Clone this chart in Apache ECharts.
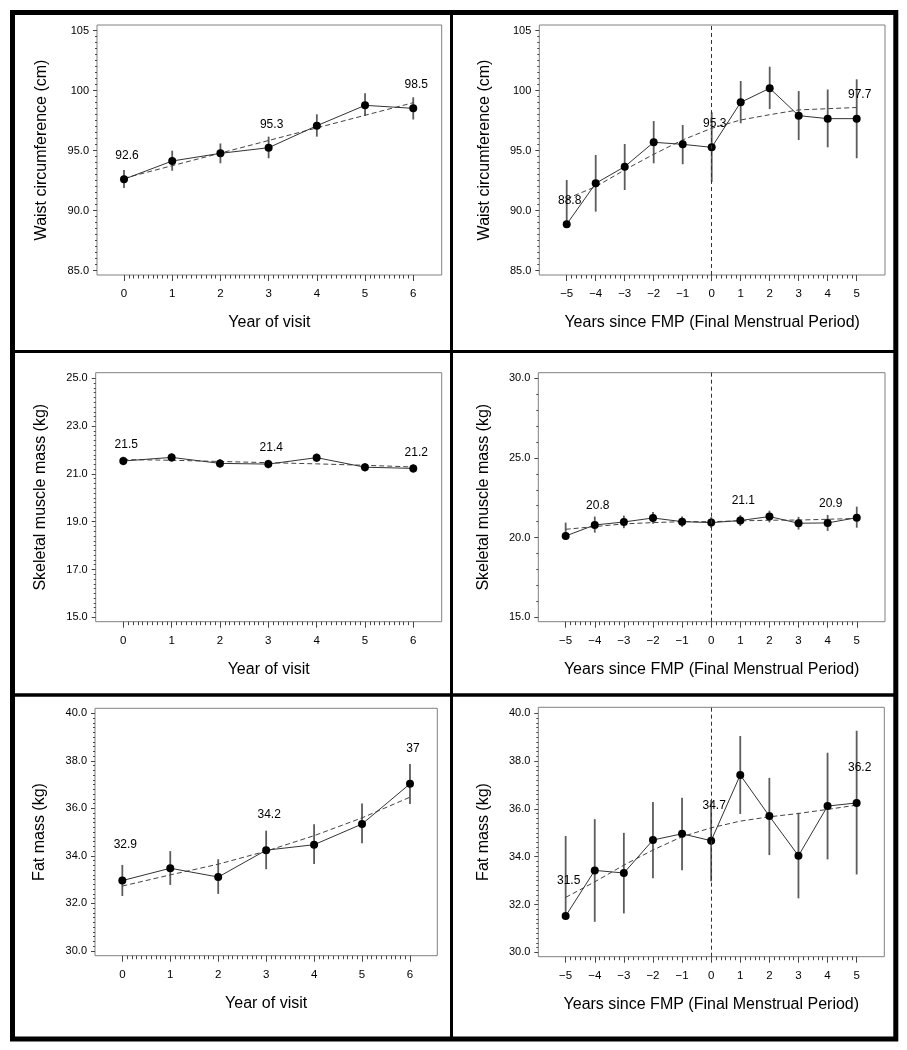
<!DOCTYPE html>
<html><head><meta charset="utf-8">
<script src="https://cdn.jsdelivr.net/npm/echarts@6/dist/echarts.min.js"></script>
<style>html,body{margin:0;padding:0;background:#fff}#c{width:907px;height:1050px}</style>
</head><body><div id="c"></div>
<script>
// ---------- categories / ticks ----------
const yearX = [0, 1, 2, 3, 4, 5, 6];
const fmpX = [-5, -4, -3, -2, -1, 0, 1, 2, 3, 4, 5];
const yearTickLabels = ['0', '1', '2', '3', '4', '5', '6'];
const fmpTickLabels = ['\u22125', '\u22124', '\u22123', '\u22122', '\u22121', '0', '1', '2', '3', '4', '5'];

const waistTicks = [85, 90, 95, 100, 105];
const waistTickLabels = ['85.0', '90.0', '95.0', '100', '105'];
const smmYearTicks = [15, 17, 19, 21, 23, 25];
const smmYearTickLabels = ['15.0', '17.0', '19.0', '21.0', '23.0', '25.0'];
const smmFmpTicks = [15, 20, 25, 30];
const smmFmpTickLabels = ['15.0', '20.0', '25.0', '30.0'];
const fatTicks = [30, 32, 34, 36, 38, 40];
const fatTickLabels = ['30.0', '32.0', '34.0', '36.0', '38.0', '40.0'];

// ---------- series values ----------
const waistYearMean = [92.62, 94.14, 94.78, 95.25, 97.08, 98.78, 98.53];
const waistYearLow  = [91.9, 93.33, 93.95, 94.37, 96.17, 97.9, 97.6];
const waistYearHigh = [93.4, 95.0, 95.6, 96.17, 98.03, 99.78, 99.45];
const waistYearFit  = [92.7, 93.75, 94.8, 95.85, 96.9, 97.95, 99.0];
const waistYearLabels = ['92.6', null, null, '95.3', null, null, '98.5'];

const waistFmpMean = [88.87, 92.28, 93.67, 95.7, 95.53, 95.28, 99.03, 100.2, 97.92, 97.67, 97.67];
const waistFmpLow  = [88.87, 89.92, 91.72, 93.95, 93.87, 92.4, 97.28, 98.47, 95.89, 95.28, 94.37];
const waistFmpHigh = [92.56, 94.64, 95.56, 97.47, 97.14, 98.2, 100.81, 102.0, 99.97, 100.1, 100.95];
const waistFmpFit  = [91.0, 92.0, 93.4, 94.7, 95.9, 96.87, 97.56, 98.0, 98.4, 98.5, 98.6];
const waistFmpLabels = ['88.8', null, null, null, null, '95.3', null, null, null, null, '97.7'];

const smmYearMean = [21.54, 21.69, 21.44, 21.41, 21.68, 21.28, 21.23];
const smmYearLow  = [21.36, 21.51, 21.26, 21.23, 21.5, 21.1, 21.05];
const smmYearHigh = [21.72, 21.87, 21.62, 21.59, 21.86, 21.46, 21.41];
const smmYearFit  = [21.6, 21.57, 21.52, 21.47, 21.42, 21.36, 21.29];
const smmYearLabels = ['21.5', null, null, '21.4', null, null, '21.2'];

const smmFmpMean = [20.1, 20.79, 20.98, 21.23, 21.0, 20.94, 21.07, 21.32, 20.9, 20.92, 21.25];
const smmFmpLow  = [20.1, 20.31, 20.59, 20.87, 20.67, 20.6, 20.73, 20.95, 20.5, 20.42, 20.62];
const smmFmpHigh = [20.94, 21.32, 21.38, 21.6, 21.33, 21.28, 21.41, 21.69, 21.3, 21.42, 21.94];
const smmFmpFit  = [20.52, 20.69, 20.86, 20.94, 21.0, 21.0, 21.05, 21.09, 21.1, 21.15, 21.2];
const smmFmpLabels = [null, '20.8', null, null, null, null, '21.1', null, null, '20.9', null];

const fatYearMean = [32.96, 33.48, 33.11, 34.24, 34.47, 35.34, 37.03];
const fatYearLow  = [32.31, 32.78, 32.4, 33.44, 33.66, 34.53, 36.18];
const fatYearHigh = [33.62, 34.2, 33.86, 35.06, 35.33, 36.2, 37.87];
const fatYearFit  = [32.73, 33.2, 33.65, 34.2, 34.85, 35.6, 36.47];
const fatYearLabels = ['32.9', null, null, '34.2', null, null, '37'];

const fatFmpMean = [31.52, 33.43, 33.32, 34.7, 34.96, 34.67, 37.42, 35.7, 34.04, 36.12, 36.25];
const fatFmpLow  = [31.52, 31.28, 31.63, 33.1, 33.44, 32.97, 35.79, 34.07, 32.26, 33.89, 33.26];
const fatFmpHigh = [34.87, 35.57, 35.0, 36.29, 36.47, 36.37, 39.05, 37.3, 35.84, 38.35, 39.27];
const fatFmpFit  = [32.3, 32.95, 33.65, 34.28, 34.84, 35.21, 35.49, 35.67, 35.81, 35.98, 36.16];
const fatFmpLabels = ['31.5', null, null, null, null, '34.7', null, null, null, null, '36.2'];

// ---------- layout ----------
const FONT = '"Liberation Sans", Arial, Helvetica, sans-serif';
const X_YEAR = 'Year of visit';
const X_FMP = 'Years since FMP (Final Menstrual Period)';

function minorValues(ticks, splits) {
  const out = [];
  for (let i = 0; i < ticks.length - 1; i++) {
    const step = (ticks[i + 1] - ticks[i]) / splits;
    for (let k = 1; k < splits; k++) out.push(+(ticks[i] + k * step).toFixed(4));
  }
  return out;
}

const panels = [
  { box: [97, 25, 344.7, 250], xr: [-0.56, 6.59], yr: [84.64, 105.475], x: yearX, xTicks: yearX, xLabels: yearTickLabels, xSplit: 10,
    yTicks: waistTicks, yLabels: waistTickLabels, ySplit: 10, yName: 'Waist circumference (cm)', xName: X_YEAR,
    mean: waistYearMean, low: waistYearLow, high: waistYearHigh, fit: waistYearFit, labels: waistYearLabels, ld: 13.5, vline: false },
  { box: [539.3, 25, 345.7, 250], xr: [-5.945, 5.976], yr: [84.64, 105.475], x: fmpX, xTicks: fmpX, xLabels: fmpTickLabels, xSplit: 6,
    yTicks: waistTicks, yLabels: waistTickLabels, ySplit: 10, yName: 'Waist circumference (cm)', xName: X_FMP,
    mean: waistFmpMean, low: waistFmpLow, high: waistFmpHigh, fit: waistFmpFit, labels: waistFmpLabels, ld: 13.5, vline: true },
  { box: [95.7, 372.7, 346, 249], xr: [-0.571, 6.588], yr: [14.816, 25.234], x: yearX, xTicks: yearX, xLabels: yearTickLabels, xSplit: 10,
    yTicks: smmYearTicks, yLabels: smmYearTickLabels, ySplit: 10, yName: 'Skeletal muscle mass (kg)', xName: X_YEAR,
    mean: smmYearMean, low: smmYearLow, high: smmYearHigh, fit: smmYearFit, labels: smmYearLabels, ld: 6, vline: false },
  { box: [538.3, 372.7, 346.7, 249], xr: [-5.94, 5.97], yr: [14.72, 30.35], x: fmpX, xTicks: fmpX, xLabels: fmpTickLabels, xSplit: 6,
    yTicks: smmFmpTicks, yLabels: smmFmpTickLabels, ySplit: 5, yName: 'Skeletal muscle mass (kg)', xName: X_FMP,
    mean: smmFmpMean, low: smmFmpLow, high: smmFmpHigh, fit: smmFmpFit, labels: smmFmpLabels, ld: 9.5, vline: true },
  { box: [95, 708.3, 342.3, 247.4], xr: [-0.57, 6.57], yr: [29.80, 40.21], x: yearX, xTicks: yearX, xLabels: yearTickLabels, xSplit: 10,
    yTicks: fatTicks, yLabels: fatTickLabels, ySplit: 10, yName: 'Fat mass (kg)', xName: X_YEAR,
    mean: fatYearMean, low: fatYearLow, high: fatYearHigh, fit: fatYearFit, labels: fatYearLabels, ld: 25.5, vline: false },
  { box: [538.3, 707.3, 346, 249.4], xr: [-5.94, 5.95], yr: [29.82, 40.25], x: fmpX, xTicks: fmpX, xLabels: fmpTickLabels, xSplit: 6,
    yTicks: fatTicks, yLabels: fatTickLabels, ySplit: 10, yName: 'Fat mass (kg)', xName: X_FMP,
    mean: fatFmpMean, low: fatFmpLow, high: fatFmpHigh, fit: fatFmpFit, labels: fatFmpLabels, ld: 25.5, vline: true }
];

const option = {
  backgroundColor: '#fff',
  animation: false,
  grid: [], xAxis: [], yAxis: [], series: [],
  graphic: [
    { type: 'rect', shape: { x: 12.5, y: 12.5, width: 883.3, height: 1026.5 }, style: { fill: 'none', stroke: '#000', lineWidth: 5 }, z: 100 },
    { type: 'line', shape: { x1: 451.5, y1: 12.5, x2: 451.5, y2: 1039 }, style: { stroke: '#000', lineWidth: 3 }, z: 100 },
    { type: 'line', shape: { x1: 12.5, y1: 351.5, x2: 895.8, y2: 351.5 }, style: { stroke: '#000', lineWidth: 3 }, z: 100 },
    { type: 'line', shape: { x1: 12.5, y1: 695, x2: 895.8, y2: 695 }, style: { stroke: '#000', lineWidth: 3.5 }, z: 100 }
  ]
};

const tickColor = '#444';
panels.forEach((p, i) => {
  option.grid.push({ left: p.box[0], top: p.box[1], width: p.box[2], height: p.box[3], show: true,
    borderColor: '#808080', borderWidth: 1, backgroundColor: 'transparent' });
  const xi = option.xAxis.length;
  const yi = option.yAxis.length;
  const xLab = (v) => { const k = p.xTicks.findIndex(t => Math.abs(t - v) < 1e-6); return k >= 0 ? p.xLabels[k] : ''; };
  const yLab = (v) => { const k = p.yTicks.findIndex(t => Math.abs(t - v) < 1e-6); return k >= 0 ? p.yLabels[k] : ''; };
  option.xAxis.push({
    type: 'value', gridIndex: i, min: p.xr[0], max: p.xr[1], position: 'bottom',
    name: p.xName, nameLocation: 'middle', nameGap: 40,
    nameTextStyle: { fontSize: 16, fontFamily: FONT, color: '#000' },
    axisLine: { show: false, onZero: false }, splitLine: { show: false },
    axisTick: { show: true, customValues: p.xTicks, length: 6, lineStyle: { color: tickColor, width: 1 } },
    axisLabel: { show: true, customValues: p.xTicks, formatter: xLab, fontSize: 11.5, margin: 13, color: '#000', fontFamily: FONT }
  });
  option.xAxis.push({
    type: 'value', gridIndex: i, min: p.xr[0], max: p.xr[1], position: 'bottom',
    axisLine: { show: false, onZero: false }, splitLine: { show: false },
    axisTick: { show: true, customValues: minorValues(p.xTicks, p.xSplit), length: 3.5, lineStyle: { color: tickColor, width: 1 } },
    axisLabel: { show: false }
  });
  option.yAxis.push({
    type: 'value', gridIndex: i, min: p.yr[0], max: p.yr[1], position: 'left',
    name: p.yName, nameLocation: 'middle', nameGap: 47,
    nameTextStyle: { fontSize: 16, fontFamily: FONT, color: '#000' },
    axisLine: { show: false, onZero: false }, splitLine: { show: false },
    axisTick: { show: true, customValues: p.yTicks, length: 4, lineStyle: { color: tickColor, width: 1 } },
    axisLabel: { show: true, customValues: p.yTicks, formatter: yLab, fontSize: 11, margin: 8, color: '#000', fontFamily: FONT }
  });
  option.yAxis.push({
    type: 'value', gridIndex: i, min: p.yr[0], max: p.yr[1], position: 'left',
    axisLine: { show: false, onZero: false }, splitLine: { show: false },
    axisTick: { show: true, customValues: minorValues(p.yTicks, p.ySplit), length: 2, lineStyle: { color: tickColor, width: 1 } },
    axisLabel: { show: false }
  });

  // error bars
  option.series.push({
    type: 'custom', xAxisIndex: xi, yAxisIndex: yi, silent: true, z: 2,
    encode: { x: 0, y: [1, 2] },
    data: p.x.map((x, j) => [x, p.low[j], p.high[j]]),
    renderItem: (params, api) => {
      const a = api.coord([api.value(0), api.value(1)]);
      const b = api.coord([api.value(0), api.value(2)]);
      return { type: 'line', shape: { x1: a[0], y1: a[1], x2: b[0], y2: b[1] }, style: { stroke: '#5c5c5c', lineWidth: 1.8 } };
    }
  });
  // fitted dashed line
  const fitSeries = {
    type: 'line', xAxisIndex: xi, yAxisIndex: yi, silent: true, z: 3,
    data: p.x.map((x, j) => [x, p.fit[j]]), symbol: 'none',
    lineStyle: { color: '#444', width: 1, type: [5, 3] }
  };
  if (p.vline) {
    fitSeries.markLine = { silent: true, symbol: ['none', 'none'], label: { show: false },
      lineStyle: { color: '#333', width: 1, type: [4, 3] }, data: [{ xAxis: 0 }] };
  }
  option.series.push(fitSeries);
  // observed means
  option.series.push({
    type: 'line', xAxisIndex: xi, yAxisIndex: yi, silent: true, z: 4,
    data: p.x.map((x, j) => [x, p.mean[j]]),
    symbol: 'circle', symbolSize: 8,
    itemStyle: { color: '#000' },
    lineStyle: { color: '#333', width: 1 },
    label: { show: true, position: 'top', distance: p.ld, offset: [3, 0], fontSize: 12, color: '#000', fontFamily: FONT,
      formatter: (q) => p.labels[q.dataIndex] || '' }
  });
});

const chart = echarts.init(document.getElementById('c'), null, { renderer: 'canvas' });
chart.setOption(option);
</script>
</body></html>
